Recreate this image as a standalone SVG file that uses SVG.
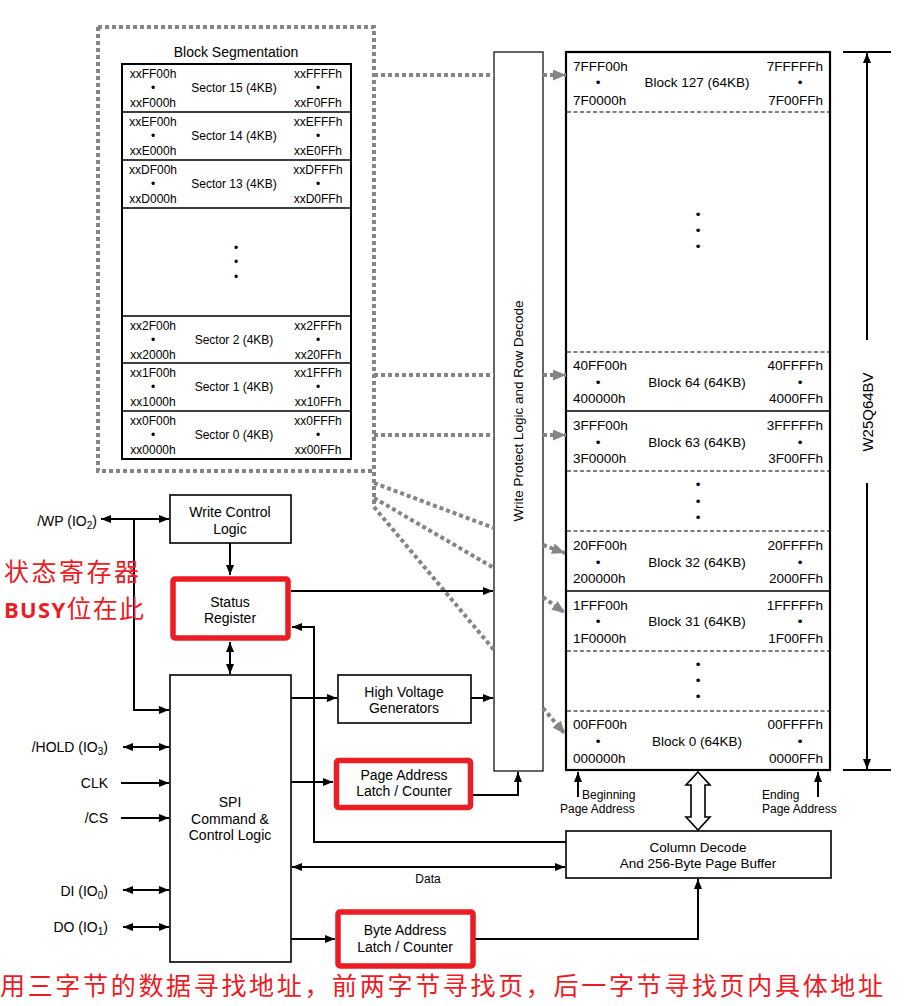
<svg xmlns="http://www.w3.org/2000/svg" width="909" height="1006" viewBox="0 0 909 1006">
<style>
text{font-family:"Liberation Sans",Arial,sans-serif;fill:#000}
.s{font-size:12px}
.b{font-size:13.5px}
.m{font-size:14px}
.c{text-anchor:middle}
.e{text-anchor:end}
.box{fill:#fff;stroke:#000;stroke-width:1.6}
.thin{fill:#fff;stroke:#000;stroke-width:1.2}
.red{fill:#fff;stroke:#ec1c24;stroke-width:5.5}
.ln{fill:none;stroke:#000;stroke-width:2}
.gd{fill:none;stroke:#858585;stroke-width:4;stroke-dasharray:4 3}
.dash{fill:none;stroke:#000;stroke-width:1.2;stroke-dasharray:4 2.5}
.sol{fill:none;stroke:#000;stroke-width:1.4}
.cn{font-family:"Noto Sans CJK SC","Noto Sans CJK JP",sans-serif;fill:#ec1c24;font-size:25px}
</style>
<defs>
<marker id="ah" viewBox="0 0 10 8" refX="10" refY="4" markerWidth="10" markerHeight="8" markerUnits="userSpaceOnUse" orient="auto-start-reverse"><path d="M0,0L10,4L0,8z" fill="#000"/></marker>
<marker id="gh" viewBox="0 0 12 10" refX="12" refY="5" markerWidth="13" markerHeight="11" markerUnits="userSpaceOnUse" orient="auto"><path d="M0,0L12,5L0,10z" fill="#858585"/></marker>
</defs>

<!-- Block segmentation -->
<g id="block-seg">
<path class="gd" d="M98,27H374V507M98,27V471H374"/>
<text class="m c" x="236" y="57">Block Segmentation</text>
<rect x="122" y="64" width="229" height="395" fill="#fff" stroke="#000" stroke-width="2"/>
<path class="sol" d="M122,112H351M122,160H351M122,208H351M122,316H351M122,363H351M122,411H351"/>
<g class="s">
<text class="c" x="153" y="78">xxFF00h</text><text class="c" x="153" y="92">•</text><text class="c" x="153" y="107">xxF000h</text>
<text class="c" x="234" y="92">Sector 15 (4KB)</text>
<text class="c" x="318" y="78">xxFFFFh</text><text class="c" x="318" y="92">•</text><text class="c" x="318" y="107">xxF0FFh</text>
<text class="c" x="153" y="126">xxEF00h</text><text class="c" x="153" y="140">•</text><text class="c" x="153" y="155">xxE000h</text>
<text class="c" x="234" y="140">Sector 14 (4KB)</text>
<text class="c" x="318" y="126">xxEFFFh</text><text class="c" x="318" y="140">•</text><text class="c" x="318" y="155">xxE0FFh</text>
<text class="c" x="153" y="174">xxDF00h</text><text class="c" x="153" y="188">•</text><text class="c" x="153" y="203">xxD000h</text>
<text class="c" x="234" y="188">Sector 13 (4KB)</text>
<text class="c" x="318" y="174">xxDFFFh</text><text class="c" x="318" y="188">•</text><text class="c" x="318" y="203">xxD0FFh</text>
<text class="c" x="236" y="252">•</text><text class="c" x="236" y="266">•</text><text class="c" x="236" y="281">•</text>
<text class="c" x="153" y="330">xx2F00h</text><text class="c" x="153" y="344">•</text><text class="c" x="153" y="359">xx2000h</text>
<text class="c" x="234" y="344">Sector 2 (4KB)</text>
<text class="c" x="318" y="330">xx2FFFh</text><text class="c" x="318" y="344">•</text><text class="c" x="318" y="359">xx20FFh</text>
<text class="c" x="153" y="377">xx1F00h</text><text class="c" x="153" y="391">•</text><text class="c" x="153" y="406">xx1000h</text>
<text class="c" x="234" y="391">Sector 1 (4KB)</text>
<text class="c" x="318" y="377">xx1FFFh</text><text class="c" x="318" y="391">•</text><text class="c" x="318" y="406">xx10FFh</text>
<text class="c" x="153" y="425">xx0F00h</text><text class="c" x="153" y="439">•</text><text class="c" x="153" y="454">xx0000h</text>
<text class="c" x="234" y="439">Sector 0 (4KB)</text>
<text class="c" x="318" y="425">xx0FFFh</text><text class="c" x="318" y="439">•</text><text class="c" x="318" y="454">xx00FFh</text>
</g>
</g>

<!-- Write protect -->
<g id="write-protect">
<rect class="thin" x="494" y="52" width="49" height="719"/>
<text class="b c" transform="translate(523,411) rotate(-90)">Write Protect Logic and Row Decode</text>
</g>

<!-- Memory array -->
<g id="memory-array">
<rect x="566" y="52" width="264" height="718" fill="#fff" stroke="#000" stroke-width="2.2"/>
<path class="dash" d="M567,112H829M567,352H829M567,471H829M567,531H829M567,651H829M567,711H829"/>
<path class="sol" d="M567,411H829M567,591H829"/>
<g class="b">
<text x="573" y="71">7FFF00h</text><text class="c" x="598" y="87">•</text><text x="573" y="105">7F0000h</text>
<text class="c" x="697" y="87">Block 127 (64KB)</text>
<text class="e" x="823" y="71">7FFFFFh</text><text class="c" x="800" y="87">•</text><text class="e" x="823" y="105">7F00FFh</text>
<text class="c" x="698" y="219">•</text><text class="c" x="698" y="235">•</text><text class="c" x="698" y="251">•</text>
<text x="573" y="370">40FF00h</text><text class="c" x="598" y="387">•</text><text x="573" y="403">400000h</text>
<text class="c" x="697" y="387">Block 64 (64KB)</text>
<text class="e" x="823" y="370">40FFFFh</text><text class="c" x="800" y="387">•</text><text class="e" x="823" y="403">4000FFh</text>
<text x="573" y="430">3FFF00h</text><text class="c" x="598" y="447">•</text><text x="573" y="463">3F0000h</text>
<text class="c" x="697" y="447">Block 63 (64KB)</text>
<text class="e" x="823" y="430">3FFFFFh</text><text class="c" x="800" y="447">•</text><text class="e" x="823" y="463">3F00FFh</text>
<text class="c" x="698" y="489">•</text><text class="c" x="698" y="506">•</text><text class="c" x="698" y="522">•</text>
<text x="573" y="550">20FF00h</text><text class="c" x="598" y="567">•</text><text x="573" y="583">200000h</text>
<text class="c" x="697" y="567">Block 32 (64KB)</text>
<text class="e" x="823" y="550">20FFFFh</text><text class="c" x="800" y="567">•</text><text class="e" x="823" y="583">2000FFh</text>
<text x="573" y="610">1FFF00h</text><text class="c" x="598" y="626">•</text><text x="573" y="643">1F0000h</text>
<text class="c" x="697" y="626">Block 31 (64KB)</text>
<text class="e" x="823" y="610">1FFFFFh</text><text class="c" x="800" y="626">•</text><text class="e" x="823" y="643">1F00FFh</text>
<text class="c" x="698" y="669">•</text><text class="c" x="698" y="685">•</text><text class="c" x="698" y="701">•</text>
<text x="573" y="729">00FF00h</text><text class="c" x="598" y="746">•</text><text x="573" y="763">000000h</text>
<text class="c" x="697" y="746">Block 0 (64KB)</text>
<text class="e" x="823" y="729">00FFFFh</text><text class="c" x="800" y="746">•</text><text class="e" x="823" y="763">0000FFh</text>
</g>
</g>

<!-- Dimension -->
<g id="dimension">
<path class="ln" d="M843,52H891M843,770H891" stroke-width="1.6"/>
<path class="ln" d="M867,340V53" stroke-width="1.6" marker-end="url(#ah)"/>
<path class="ln" d="M867,483V769" stroke-width="1.6" marker-end="url(#ah)"/>
<text class="c" font-size="15px" transform="translate(873,412) rotate(-90)">W25Q64BV</text>
</g>

<g id="write-control">
<rect class="box" x="170" y="495" width="121" height="48"/>
<text class="m c" x="230" y="517">Write Control</text>
<text class="m c" x="230" y="534">Logic</text>
</g>
<g id="status-register">
<rect class="red" x="173" y="579" width="115" height="59" rx="2"/>
<text class="m c" x="230" y="607">Status</text>
<text class="m c" x="230" y="623">Register</text>
</g>
<g id="spi">
<rect class="box" x="170" y="675" width="121" height="287"/>
<text class="m c" x="230" y="807">SPI</text>
<text class="m c" x="230" y="824">Command &amp;</text>
<text class="m c" x="230" y="840">Control Logic</text>
</g>
<g id="hv">
<rect class="box" x="338" y="675" width="133" height="48"/>
<text class="m c" x="404" y="697">High Voltage</text>
<text class="m c" x="404" y="713">Generators</text>
</g>
<g id="page-address">
<rect class="red" x="336.5" y="760.5" width="134" height="47" rx="2"/>
<text class="m c" x="404" y="780">Page Address</text>
<text class="m c" x="404" y="796">Latch / Counter</text>
</g>
<g id="byte-address">
<rect class="red" x="338" y="912" width="135" height="54" rx="2"/>
<text class="m c" x="405" y="935">Byte Address</text>
<text class="m c" x="405" y="952">Latch / Counter</text>
</g>
<g id="column-decode">
<rect class="box" x="566" y="831" width="265" height="47"/>
<text class="b c" x="698" y="852">Column Decode</text>
<text class="b c" x="698" y="868">And 256-Byte Page Buffer</text>
</g>

<g id="labels">
<text class="m e" x="97" y="526">/WP (IO<tspan font-size="10" dy="3">2</tspan><tspan dy="-3">)</tspan></text>
<text class="m e" x="108" y="752">/HOLD (IO<tspan font-size="10" dy="3">3</tspan><tspan dy="-3">)</tspan></text>
<text class="m e" x="108" y="788">CLK</text>
<text class="m e" x="108" y="823">/CS</text>
<text class="m e" x="108" y="896">DI (IO<tspan font-size="10" dy="3">0</tspan><tspan dy="-3">)</tspan></text>
<text class="m e" x="108" y="932">DO (IO<tspan font-size="10" dy="3">1</tspan><tspan dy="-3">)</tspan></text>
<text class="s c" x="428" y="883">Data</text>
<text class="s" x="582" y="799">Beginning</text>
<text class="s" x="560" y="813">Page Address</text>
<text class="s" x="762" y="799">Ending</text>
<text class="s" x="762" y="813">Page Address</text>
</g>

<g id="connectors">
<path class="gd" d="M374,75H494M374,375H494M374,435H494"/>
<path class="gd" d="M543,75H566" marker-end="url(#gh)"/>
<path class="gd" d="M543,375H566" marker-end="url(#gh)"/>
<path class="gd" d="M543,435H566" marker-end="url(#gh)"/>
<path class="gd" d="M374,483L494,528M374,498L494,568M374,507L494,650"/>
<path class="gd" d="M543,545L565,553" marker-end="url(#gh)"/>
<path class="gd" d="M543,597L565,613" marker-end="url(#gh)"/>
<path class="gd" d="M543,708L565,734" marker-end="url(#gh)"/>

<path class="ln" d="M101,519H169" marker-start="url(#ah)" marker-end="url(#ah)"/>
<path class="ln" d="M134,519V710H169" marker-end="url(#ah)"/>
<path class="ln" d="M230,543V575" marker-end="url(#ah)"/>
<path class="ln" d="M230,642V674" marker-start="url(#ah)" marker-end="url(#ah)"/>
<path class="ln" d="M123,747H169" marker-start="url(#ah)" marker-end="url(#ah)"/>
<path class="ln" d="M121,783H169" marker-end="url(#ah)"/>
<path class="ln" d="M121,818H169" marker-end="url(#ah)"/>
<path class="ln" d="M123,890H169" marker-start="url(#ah)" marker-end="url(#ah)"/>
<path class="ln" d="M123,927H169" marker-start="url(#ah)" marker-end="url(#ah)"/>
<path class="ln" d="M291,591H493" marker-end="url(#ah)"/>
<path class="ln" d="M566,842H314V627H292" marker-end="url(#ah)"/>
<path class="ln" d="M291,698H337" marker-end="url(#ah)"/>
<path class="ln" d="M471,698H493" marker-end="url(#ah)"/>
<path class="ln" d="M291,782H333" marker-end="url(#ah)"/>
<path class="ln" d="M473,795H518V772" marker-end="url(#ah)"/>
<path class="ln" d="M292,867H565" marker-start="url(#ah)" marker-end="url(#ah)"/>
<path class="ln" d="M291,939H335" marker-end="url(#ah)"/>
<path class="ln" d="M475,939H698V879" marker-end="url(#ah)"/>
<path class="ln" d="M578,797V772" marker-end="url(#ah)"/>
<path class="ln" d="M818,797V772" marker-end="url(#ah)"/>
<polygon points="698,772 710,785 705,785 705,817 710,817 698,830 686,817 691,817 691,785 686,785" fill="#fff" stroke="#000" stroke-width="1.6"/>
</g>

<g id="annotations">
<text class="cn" x="4" y="581" font-size="23px" textLength="135" lengthAdjust="spacing">状态寄存器</text>
<text class="cn" x="4" y="618" font-size="24px" textLength="140" lengthAdjust="spacing"><tspan font-family="'Open Sans','Liberation Sans',sans-serif" font-weight="bold" font-size="22px">BUSY</tspan>位在此</text>
<text class="cn" x="0" y="995" textLength="883" lengthAdjust="spacing">用三字节的数据寻找地址，前两字节寻找页，后一字节寻找页内具体地址</text>
</g>
</svg>
